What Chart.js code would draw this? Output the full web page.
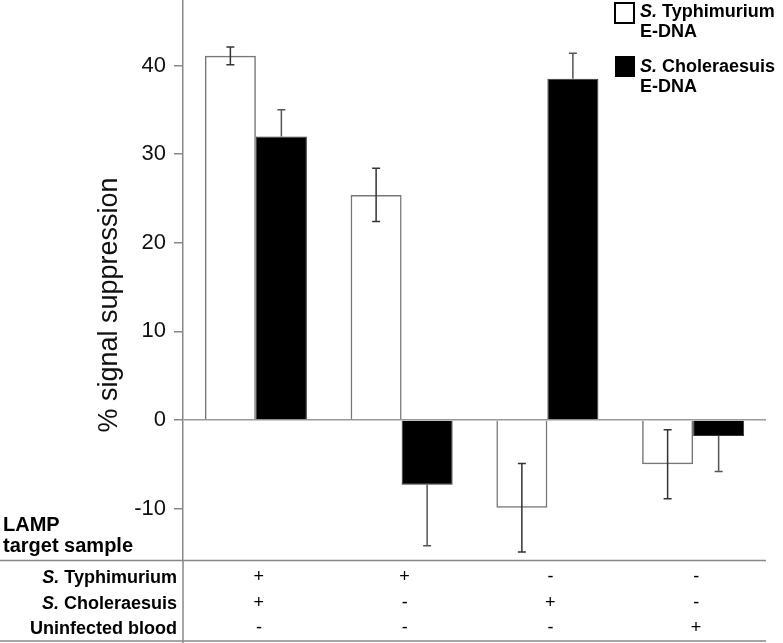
<!DOCTYPE html>
<html>
<head>
<meta charset="utf-8">
<script src="https://cdn.jsdelivr.net/npm/chart.js@4/dist/chart.umd.min.js"></script>
<style>
  body { margin: 0; background: #fff; }
  #wrap { width: 783px; height: 643px; position: relative; }
</style>
</head>
<body>
<div id="wrap"><canvas id="chart"></canvas></div>
<script>
// groups along the x axis (described by the table underneath)
const groups = ['Typhimurium + Choleraesuis', 'Typhimurium', 'Choleraesuis', 'Uninfected blood'];

// % signal suppression
const typhi_values = [41.1, 25.4, -9.9, -5.0];
const typhi_errors = [1.0, 3.0, 5.0, 3.9];
const chol_values = [32.0, -7.3, 38.5, -1.8];
const chol_errors = [3.0, 6.9, 2.9, 4.0];

const y_ticks = [-10, 0, 10, 20, 30, 40];
const y_min = -15.8;
const y_max = 47.4;

// LAMP target sample table
const row_names = [['S.', ' Typhimurium'], ['S.', ' Choleraesuis'], ['', 'Uninfected blood']];
const row_signs = [
  ['+', '+', '-', '-'],
  ['+', '-', '+', '-'],
  ['-', '-', '-', '+']
];
const legend_names = [['S.', ' Typhimurium', 'E-DNA'], ['S.', ' Choleraesuis', 'E-DNA']];

const FONT = '"Liberation Sans", Arial, Helvetica, sans-serif';
Chart.defaults.font.family = FONT;

function drawMixed(ctx, parts, x, y, size, align) {
  // parts[0] italic, parts[1] normal
  ctx.font = `italic bold ${size}px ${FONT}`;
  const w0 = ctx.measureText(parts[0]).width;
  ctx.font = `bold ${size}px ${FONT}`;
  const w1 = ctx.measureText(parts[1]).width;
  let x0 = align === 'right' ? x - w0 - w1 : x;
  ctx.textAlign = 'left';
  ctx.font = `italic bold ${size}px ${FONT}`;
  ctx.fillText(parts[0], x0, y);
  ctx.font = `bold ${size}px ${FONT}`;
  ctx.fillText(parts[1], x0 + w0, y);
}

const errorBars = {
  id: 'errorBars',
  afterDatasetsDraw(chart) {
    const ctx = chart.ctx;
    const ys = chart.scales.y;
    const errs = [typhi_errors, chol_errors];
    ctx.save();
    chart.data.datasets.forEach((ds, di) => {
      const meta = chart.getDatasetMeta(di);
      meta.data.forEach((bar, i) => {
        const v = ds.data[i];
        const e = errs[di][i];
        const sgn = v >= 0 ? 1 : -1;
        // white bars show the whole bar, black bars hide the inner half
        const from = di === 0 ? v - sgn * e : v;
        const to = v + sgn * e;
        const y1 = ys.getPixelForValue(from);
        const y2 = ys.getPixelForValue(to);
        ctx.strokeStyle = di === 0 ? '#333' : '#555';
        ctx.lineWidth = 1.5;
        ctx.beginPath();
        ctx.moveTo(bar.x, y1);
        ctx.lineTo(bar.x, y2);
        ctx.moveTo(bar.x - 4, y2);
        ctx.lineTo(bar.x + 4, y2);
        if (di === 0) {
          ctx.moveTo(bar.x - 4, y1);
          ctx.lineTo(bar.x + 4, y1);
        }
        ctx.stroke();
      });
    });
    ctx.restore();
  }
};

const extras = {
  id: 'extras',
  afterDraw(chart) {
    const ctx = chart.ctx;
    const area = chart.chartArea;
    const xs = chart.scales.x;
    ctx.save();

    // axis continues through the table, table rules
    ctx.strokeStyle = '#888';
    ctx.lineWidth = 1.5;
    ctx.beginPath();
    ctx.moveTo(area.left, area.bottom);
    ctx.lineTo(area.left, 643);
    ctx.moveTo(0, 560.5);
    ctx.lineTo(area.right, 560.5);
    ctx.moveTo(0, 641);
    ctx.lineTo(area.right, 641);
    ctx.stroke();

    // y axis title
    ctx.fillStyle = '#111';
    ctx.save();
    ctx.translate(110, 305);
    ctx.rotate(-Math.PI / 2);
    ctx.font = `27px ${FONT}`;
    ctx.textAlign = 'center';
    ctx.textBaseline = 'middle';
    ctx.fillText('% signal suppression', 0, 0);
    ctx.restore();

    // table heading
    ctx.fillStyle = '#000';
    ctx.textBaseline = 'alphabetic';
    ctx.textAlign = 'left';
    ctx.font = `bold 20px ${FONT}`;
    ctx.fillText('LAMP', 3, 531);
    ctx.fillText('target sample', 3, 552);

    const rowY = [583, 609, 634];
    row_names.forEach((parts, r) => {
      drawMixed(ctx, parts, 177, rowY[r], 18, 'right');
      ctx.font = `18px ${FONT}`;
      ctx.textAlign = 'center';
      row_signs[r].forEach((s, i) => {
        ctx.fillText(s, xs.getPixelForValue(i) + 3, rowY[r] - 1);
      });
    });

    // legend
    const boxY = [3, 56];
    const textY = [17, 72];
    legend_names.forEach((parts, i) => {
      if (i === 0) {
        ctx.fillStyle = '#fff';
        ctx.fillRect(615, boxY[i], 19, 20);
        ctx.strokeStyle = '#000';
        ctx.lineWidth = 2;
        ctx.strokeRect(615, boxY[i], 19, 20);
      } else {
        ctx.fillStyle = '#000';
        ctx.fillRect(615, boxY[i], 20, 21);
      }
      ctx.fillStyle = '#000';
      drawMixed(ctx, parts, 640, textY[i], 18, 'left');
      ctx.font = `bold 18px ${FONT}`;
      ctx.fillText(parts[2], 640, textY[i] + 20);
    });
    ctx.restore();
  }
};

new Chart(document.querySelector('#chart'), {
  type: 'bar',
  data: {
    labels: groups,
    datasets: [{
      label: 'S. Typhimurium E-DNA',
      data: typhi_values,
      backgroundColor: 'rgba(255,255,255,0)',
      borderColor: '#777',
      borderWidth: 1.5,
      borderSkipped: 'start'
    }, {
      label: 'S. Choleraesuis E-DNA',
      data: chol_values,
      backgroundColor: '#000',
      borderColor: '#333',
      borderWidth: 1,
      borderSkipped: 'start'
    }]
  },
  options: {
    responsive: true,
    maintainAspectRatio: false,
    animation: false,
    layout: { padding: { top: 0, left: 0, right: 17, bottom: 83 } },
    categoryPercentage: 0.7,
    barPercentage: 1.0,
    plugins: {
      legend: { display: false },
      tooltip: { enabled: false }
    },
    scales: {
      x: {
        display: false
      },
      y: {
        min: y_min,
        max: y_max,
        afterFit(scale) {
          scale.width = 183;
          scale.paddingTop = 0;
          scale.paddingBottom = 0;
        },
        afterBuildTicks(scale) { scale.ticks = y_ticks.map(v => ({ value: v })); },
        border: { display: true, color: '#888', width: 1.5 },
        grid: {
          color: c => (c.tick && c.tick.value === 0) ? '#999' : 'rgba(0,0,0,0)',
          lineWidth: 1.5,
          tickColor: '#888',
          tickLength: 9
        },
        ticks: {
          padding: 8,
          color: '#111',
          font: { size: 22 }
        }
      }
    }
  },
  plugins: [errorBars, extras]
});
</script>
</body>
</html>
